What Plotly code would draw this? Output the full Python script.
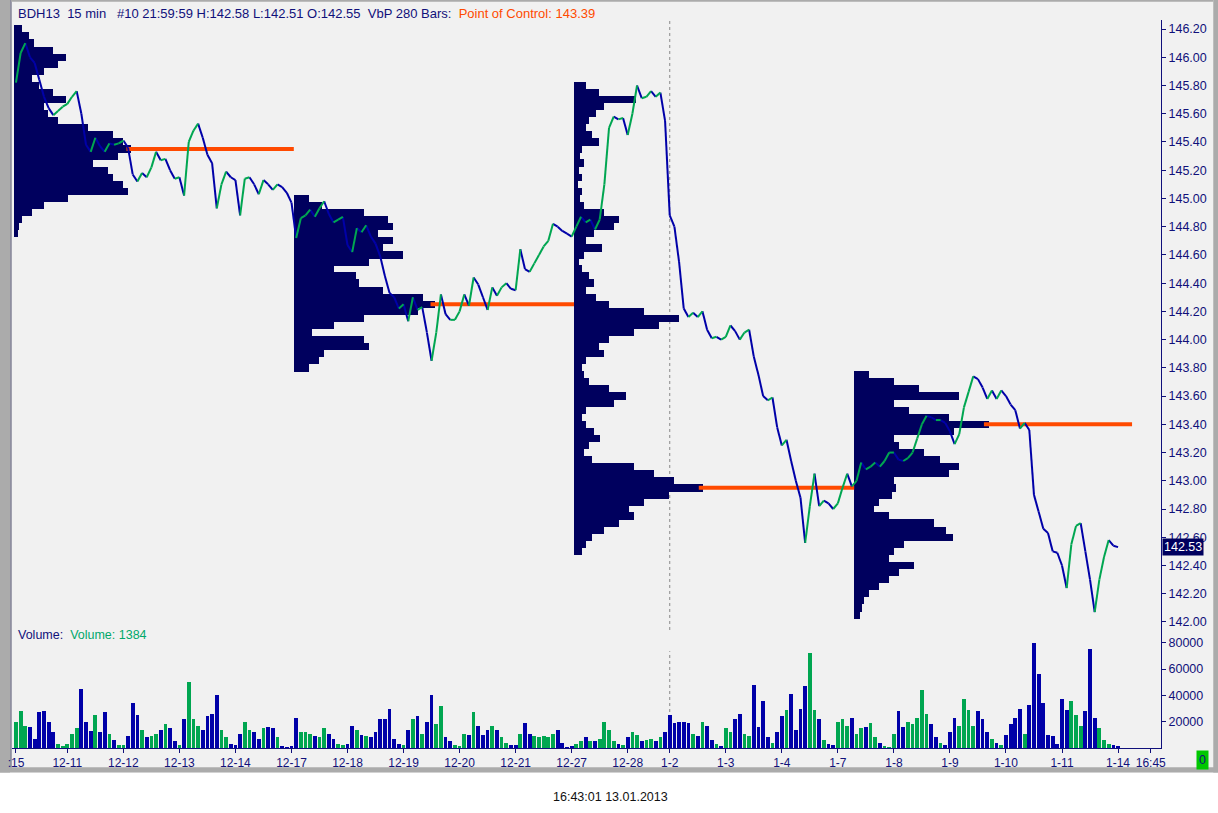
import numpy as np
import plotly.graph_objects as go

# session labels on the time axis and how many (resampled) 15 min bars each day has
day_labels = [":15", "12-11", "12-12", "12-13", "12-14", "12-17", "12-18", "12-19", "12-20", "12-21",
              "12-27", "12-28", "1-2", "1-3", "1-4", "1-7", "1-8", "1-9", "1-10", "1-11", "1-14"]
day_bars = [11, 12, 12, 12, 12, 12, 12, 12, 12, 12,
            12, 9, 12, 12, 12, 12, 12, 12, 12, 12, 1]
clock_label = "16:45"

close = [
    145.82, 146.03, 146.10, 146.00, 145.96, 145.84, 145.72, 145.64, 145.59, 145.62, 145.65,           # 12-10
    145.67, 145.72, 145.76, 145.60, 145.38, 145.33, 145.43, 145.37, 145.33, 145.39, 145.38, 145.39,   # 12-11
    145.41, 145.36, 145.17, 145.12, 145.18, 145.15, 145.22, 145.33, 145.27, 145.28, 145.20, 145.14,   # 12-12
    145.15, 145.02, 145.40, 145.48, 145.53, 145.43, 145.31, 145.25, 144.93, 145.10, 145.19, 145.15,   # 12-13
    145.13, 144.88, 145.14, 145.15, 145.10, 145.03, 145.13, 145.10, 145.06, 145.10, 145.08, 145.04,   # 12-14
    144.97, 144.72, 144.86, 144.88, 144.92, 144.87, 144.93, 144.98, 144.89, 144.83, 144.85, 144.87,   # 12-17
    144.67, 144.62, 144.79, 144.76, 144.81, 144.73, 144.68, 144.59, 144.45, 144.33, 144.30, 144.22,   # 12-18
    144.25, 144.13, 144.30, 144.21, 144.23, 144.05, 143.85, 144.05, 144.32, 144.18, 144.14, 144.14,   # 12-19
    144.20, 144.32, 144.24, 144.44, 144.39, 144.30, 144.21, 144.37, 144.31, 144.37, 144.40, 144.36,   # 12-20
    144.35, 144.64, 144.50, 144.48, 144.54, 144.60, 144.66, 144.70, 144.82, 144.80, 144.77, 144.75,   # 12-21
    144.73, 144.80, 144.87, 144.83, 144.85, 144.78, 144.85, 145.10, 145.50, 145.58, 145.56, 145.57,   # 12-27
    145.45, 145.60, 145.80, 145.71, 145.72, 145.76, 145.72, 145.75, 145.55,                           # 12-28
    144.88, 144.80, 144.55, 144.22, 144.16, 144.19, 144.16, 144.20, 144.07, 144.01, 144.02, 144.00,   # 1-2
    144.02, 144.10, 144.06, 144.00, 144.05, 144.07, 143.88, 143.75, 143.60, 143.57, 143.59, 143.38,   # 1-3
    143.25, 143.29, 143.14, 143.00, 142.88, 142.56, 142.82, 143.05, 142.82, 142.86, 142.84, 142.80,   # 1-4
    142.84, 142.95, 143.05, 142.96, 143.00, 143.13, 143.08, 143.10, 143.13, 143.10, 143.14, 143.20,   # 1-7
    143.20, 143.15, 143.14, 143.16, 143.20, 143.30, 143.40, 143.46, 143.45, 143.43, 143.43, 143.41,   # 1-8
    143.35, 143.26, 143.33, 143.52, 143.63, 143.74, 143.72, 143.66, 143.58, 143.64, 143.58, 143.64,   # 1-9
    143.60, 143.54, 143.50, 143.37, 143.41, 143.36, 142.90, 142.78, 142.66, 142.63, 142.50, 142.49,   # 1-10
    142.40, 142.24, 142.55, 142.68, 142.70, 142.50, 142.30, 142.07, 142.30, 142.46, 142.58, 142.54,   # 1-11
    142.53,                                                                                           # 1-14
]

volume = [
    20000, 28000, 17000, 16000, 7000, 27000, 28000, 20000, 12000, 3000, 1500,
    3000, 11000, 15000, 45000, 20000, 13000, 25000, 12000, 27000, 11000, 6000, 2500,
    2000, 9000, 34000, 25000, 14000, 8000, 9000, 11000, 14000, 18000, 15000, 5000,
    2000, 22000, 50000, 22000, 17000, 14000, 24000, 26000, 40000, 14000, 8000, 3000,
    2000, 11000, 20000, 14000, 12000, 7000, 15000, 16000, 15000, 8000, 1500, 1000,
    1500, 23000, 12000, 12000, 11000, 9000, 8000, 15000, 11000, 7000, 3000, 2000,
    3000, 17000, 14000, 10000, 9000, 8000, 12000, 22000, 22000, 30000, 7000, 3000,
    2000, 14000, 22000, 24000, 11000, 20000, 40000, 18000, 32000, 8000, 5000, 2000,
    1500, 11000, 10000, 27000, 17000, 10000, 14000, 17000, 14000, 8000, 4000, 2000,
    2000, 11000, 19000, 11000, 9000, 8000, 9000, 8000, 11000, 14000, 4000, 1000,
    1500, 3000, 5000, 8000, 5000, 5000, 7000, 20000, 14000, 5000, 3000, 2000,
    8000, 12000, 10000, 5000, 6000, 7000, 5000, 8000, 12000,
    25000, 19000, 20000, 20000, 19000, 11000, 9000, 20000, 17000, 6000, 3000, 1500,
    15000, 12000, 22000, 26000, 11000, 9000, 48000, 16000, 36000, 8000, 4000, 12000,
    24000, 29000, 41000, 14000, 30000, 47000, 72000, 29000, 22000, 6000, 3000, 2000,
    20000, 22000, 17000, 23000, 11000, 15000, 16000, 19000, 8000, 4000, 1500, 1000,
    11000, 28000, 16000, 20000, 18000, 23000, 44000, 26000, 18000, 8000, 4000, 2000,
    12000, 23000, 17000, 37000, 29000, 17000, 28000, 22000, 12000, 7000, 4000, 2000,
    10000, 18000, 23000, 30000, 11000, 33000, 80000, 56000, 34000, 10000, 9000, 3000,
    37000, 29000, 36000, 25000, 17000, 28000, 75000, 23000, 15000, 6000, 3000, 2000,
    1384,
]

# volume by price, one profile per 280 raw bars; top price then volume per 0.05 step going down
vbp_step = 0.05
vbp_top = [146.20, 145.00, 145.80, 143.75]
vbp_1 = [8, 15, 20, 40, 53, 45, 30, 18, 25, 40, 53, 30, 35, 45, 75, 100, 110, 118, 105, 80,
         95, 100, 110, 115, 55, 30, 18, 8, 5, 4]
vbp_2 = [15, 28, 70, 95, 100, 85, 100, 90, 110, 75, 40, 62, 65, 90, 130, 142, 125, 70, 40, 18,
         70, 75, 30, 25, 15]
vbp_3 = [12, 25, 62, 30, 22, 15, 12, 18, 25, 8,
         6, 10, 5, 8, 4, 8, 6, 10, 30, 45,
         40, 20, 12, 28, 10, 5, 8, 15, 20, 12,
         22, 35, 70, 105, 85, 60, 35, 25, 30, 12,
         8, 10, 15, 35, 52, 40, 12, 8, 12, 20,
         26, 15, 10, 18, 60, 80, 100, 130, 95, 70,
         55, 60, 45, 30, 18, 12, 8]
vbp_4 = [15, 40, 65, 105, 40, 55, 95, 135, 100, 40, 45, 70, 86, 105, 95, 40, 42, 38, 25, 20,
         35, 80, 92, 99, 50, 40, 35, 60, 45, 35, 25, 15, 10, 8, 6]
vbp_all = [vbp_1, vbp_2, vbp_3, vbp_4]

price_ticks = [142.0, 142.2, 142.4, 142.6, 142.8, 143.0, 143.2, 143.4, 143.6, 143.8, 144.0,
               144.2, 144.4, 144.6, 144.8, 145.0, 145.2, 145.4, 145.6, 145.8, 146.0, 146.2]
vol_ticks = [20000, 40000, 60000, 80000]

NAVY = "#10107A"
PROFILE = "#00005E"
BLUE = "#0000A8"
GREEN = "#00A651"
ORANGE = "#FF4A00"
BG = "#F1F1F1"
FRAME = "#ABABAB"
FONT = "Liberation Sans, Arial, sans-serif"

PROFILE_BARS = 60      # resampled bars per profile window
VBP_SCALE = 1 / 4.69   # profile length -> bar units

n = len(close)
x = np.arange(n)
day_start = np.concatenate([[0], np.cumsum(day_bars)[:-1]])
tick_vals = list(day_start) + [n + 6]
tick_text = day_labels + [clock_label]

fig = go.Figure()

# profiles + point of control lines
for k, vols in enumerate(vbp_all):
    vols = np.array(vols, dtype=float)
    levels = vbp_top[k] - vbp_step * np.arange(len(vols))
    start = k * PROFILE_BARS - 0.5
    j = int(np.argmax(vols))
    end = min(start + PROFILE_BARS, n + 2)
    fig.add_trace(go.Scatter(x=[start + vols[j] * VBP_SCALE - 1, end], y=[levels[j], levels[j]],
                             mode="lines", line=dict(color=ORANGE, width=4), hoverinfo="skip"))
    fig.add_trace(go.Bar(orientation="h", y=levels, x=vols * VBP_SCALE, base=start,
                         width=vbp_step * 1.04, marker=dict(color=PROFILE, line_width=0),
                         hoverinfo="skip"))

# price line, green where it rises, blue where it falls
up_x, up_y, dn_x, dn_y = [], [], [], []
for i in range(1, n):
    if close[i] >= close[i - 1]:
        up_x += [i - 1, i, None]
        up_y += [close[i - 1], close[i], None]
    else:
        dn_x += [i - 1, i, None]
        dn_y += [close[i - 1], close[i], None]
fig.add_trace(go.Scatter(x=dn_x, y=dn_y, mode="lines", line=dict(color=BLUE, width=2)))
fig.add_trace(go.Scatter(x=up_x, y=up_y, mode="lines", line=dict(color=GREEN, width=2)))

# volume
vol_colors = [GREEN if i == 0 or close[i] >= close[i - 1] else BLUE for i in range(n)]
fig.add_trace(go.Bar(x=x, y=volume, yaxis="y2", width=0.8,
                     marker=dict(color=vol_colors, line_width=0)))

# year separator at 1-2
sep = day_start[day_labels.index("1-2")]
shapes = [
    dict(type="line", xref="x", yref="y domain", x0=sep, x1=sep, y0=0, y1=1,
         line=dict(color="#888888", width=1, dash="dot"), layer="below"),
    dict(type="line", xref="x", yref="y2 domain", x0=sep, x1=sep, y0=0, y1=0.82,
         line=dict(color="#888888", width=1, dash="dot"), layer="below"),
    # window frame
    dict(type="rect", xref="paper", yref="paper", x0=-0.02, x1=1.06, y0=-0.2, y1=-0.0335,
         fillcolor="white", line_width=0, layer="below"),
    dict(type="rect", xref="paper", yref="paper", x0=-0.02, x1=1.06, y0=-0.0335, y1=-0.0265,
         fillcolor=FRAME, line_width=0, layer="below"),
    dict(type="rect", xref="paper", yref="paper", x0=-0.02, x1=-0.0017, y0=-0.0335, y1=1.05,
         fillcolor=FRAME, line_width=0, layer="below"),
    dict(type="rect", xref="paper", yref="paper", x0=1.0455, x1=1.06, y0=-0.0335, y1=1.05,
         fillcolor=FRAME, line_width=0, layer="below"),
    dict(type="line", xref="paper", yref="paper", x0=-0.0009, x1=-0.0009, y0=-0.0265, y1=1.03,
         line=dict(color="#404060", width=1), layer="below"),
    dict(type="line", xref="paper", yref="paper", x0=-0.0009, x1=1.0455, y0=1.0265, y1=1.0265,
         line=dict(color=FRAME, width=2), layer="below"),
]

sp = "\u00a0"
title = (f"BDH13{sp*2}15 min{sp*3}#10 21:59:59 H:142.58 L:142.51 O:142.55{sp*2}VbP 280 Bars:{sp*2}"
         f"<span style='color:{ORANGE}'>Point of Control: 143.39</span>")
annotations = [
    dict(text=title, xref="paper", yref="paper", x=0.0035, y=1.0096, xanchor="left",
         yanchor="middle", showarrow=False, font=dict(size=13, color=NAVY)),
    dict(text=f"Volume:{sp*2}<span style='color:#00A86B'>Volume: {volume[-1]}</span>",
         xref="paper", yref="paper", x=0.0035, y=0.1552, xanchor="left", yanchor="middle",
         showarrow=False, font=dict(size=12.5, color=NAVY)),
    dict(text=f"{close[-1]:.2f}", xref="paper", yref="y", x=1.0012, y=close[-1], xanchor="left",
         yanchor="middle", showarrow=False, bgcolor=PROFILE, borderpad=1,
         font=dict(size=12.5, color="white")),
    dict(text="0", xref="paper", yref="paper", x=1.0364, y=-0.0165, xanchor="center",
         yanchor="middle", showarrow=False, bgcolor="#00C800", borderpad=2,
         font=dict(size=12.5, color=NAVY)),
    dict(text="16:43:01 13.01.2013", xref="paper", yref="paper", x=0.5213, y=-0.0673,
         xanchor="center", yanchor="middle", showarrow=False, font=dict(size=12.5, color="#111111")),
]

axis_common = dict(showgrid=False, zeroline=False, showline=True, linecolor=NAVY, linewidth=1,
                   ticks="outside", ticklen=4, tickcolor=NAVY, tickfont=dict(size=12.5, color=NAVY))

fig.update_layout(
    width=1218, height=813,
    margin=dict(l=8, r=57, t=20, b=65),
    paper_bgcolor=BG, plot_bgcolor=BG,
    font=dict(family=FONT, size=12, color=NAVY),
    showlegend=False, barmode="overlay", bargap=0,
    xaxis=dict(range=[-0.85, 245.2], anchor="y2", tickvals=tick_vals, ticktext=tick_text,
               tickangle=0, **axis_common),
    yaxis=dict(domain=[0.1621, 1], range=[141.943, 146.264], side="right", anchor="x",
               tickvals=price_ticks, ticktext=[f"{v:.2f}" for v in price_ticks], **axis_common),
    yaxis2=dict(domain=[0, 0.1621], range=[0, 89700], side="right", anchor="x",
                tickvals=vol_ticks, ticktext=[str(v) for v in vol_ticks], **axis_common),
    shapes=shapes,
    annotations=annotations,
)
fig.update_xaxes(tickfont_size=12)

# the page body gets no default margin so the figure sits at the window's top-left corner
fig.write_html("out.html", config={"displayModeBar": False},
               post_script="document.body.style.margin = '0';")
